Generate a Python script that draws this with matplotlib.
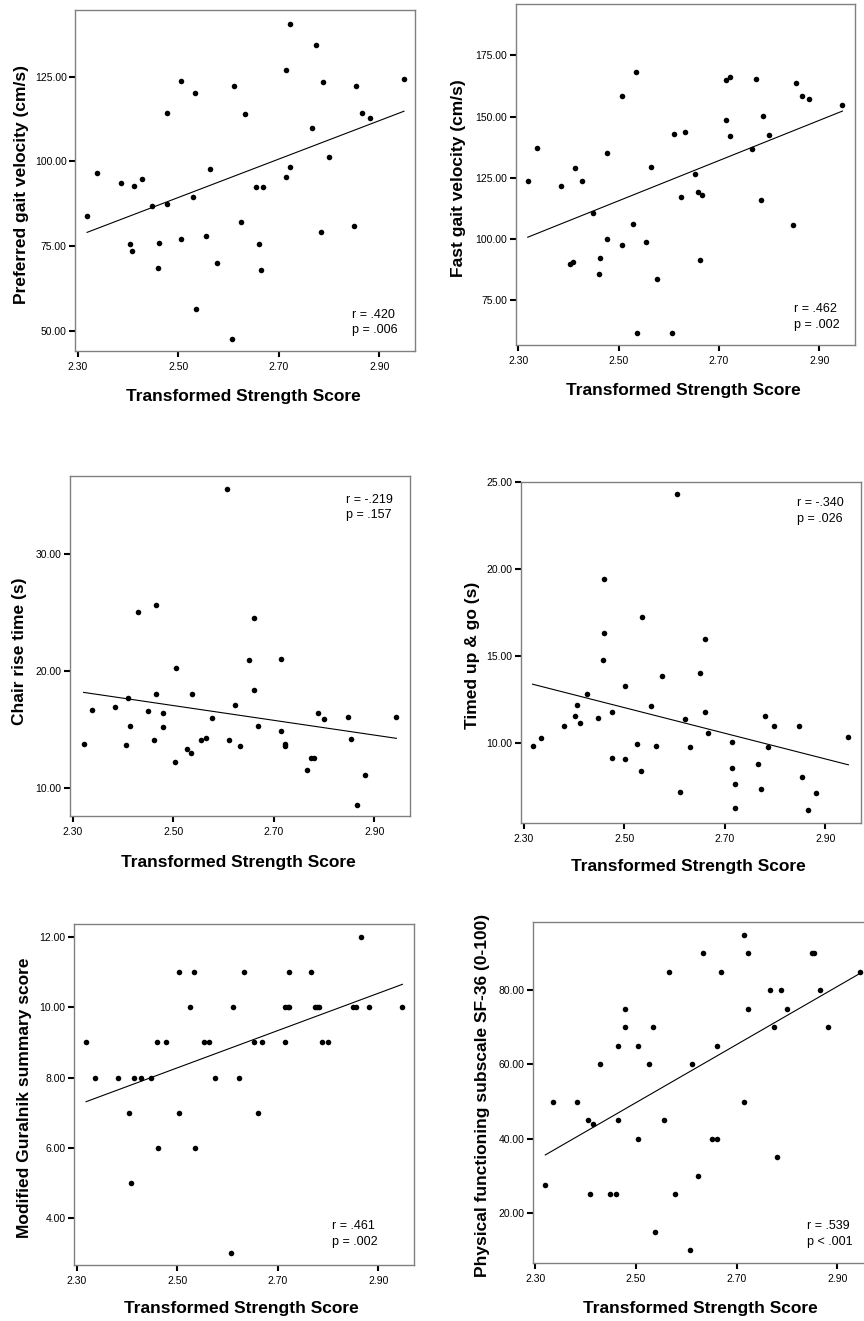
import numpy as np
import matplotlib.pyplot as plt

plt.rcParams['font.family'] = ['Liberation Sans', 'DejaVu Sans']

W, H = 864, 1321

# ---- data ----
# preferred gait velocity (cm/s)
x_pref = [2.319, 2.339, 2.386, 2.413, 2.428, 2.404, 2.409, 2.449, 2.477, 2.477, 2.461,
          2.463, 2.506, 2.506, 2.534, 2.529, 2.536, 2.555, 2.564, 2.577, 2.607, 2.612,
          2.626, 2.633, 2.654, 2.668, 2.661, 2.664, 2.715, 2.723, 2.715, 2.723, 2.767,
          2.774, 2.788, 2.784, 2.800, 2.850, 2.854, 2.866, 2.882, 2.949]
y_pref = [84.0, 96.6, 93.7, 92.7, 94.8, 75.6, 73.4, 86.7, 87.5, 114.4, 68.6,
          75.9, 123.8, 77.0, 120.3, 89.6, 56.4, 78.1, 97.6, 70.0, 47.5, 122.4,
          82.2, 114.1, 92.3, 92.3, 75.6, 67.8, 95.5, 98.3, 127.0, 140.6, 109.8,
          134.4, 123.5, 79.0, 101.4, 80.8, 122.4, 114.4, 112.7, 124.2]

# fast gait velocity (cm/s)
x_fast = [2.319, 2.338, 2.385, 2.413, 2.428, 2.449, 2.404, 2.409, 2.477, 2.477, 2.463,
          2.460, 2.506, 2.506, 2.534, 2.529, 2.537, 2.555, 2.564, 2.576, 2.606, 2.611,
          2.625, 2.632, 2.653, 2.659, 2.667, 2.662, 2.713, 2.722, 2.713, 2.721, 2.765,
          2.773, 2.787, 2.783, 2.799, 2.848, 2.853, 2.865, 2.880, 2.946]
y_fast = [123.6, 137.1, 121.6, 128.9, 123.6, 110.7, 89.7, 90.6, 135.1, 99.9, 92.1,
          85.9, 158.3, 97.4, 168.0, 106.1, 61.8, 98.9, 129.4, 83.9, 61.8, 142.8,
          117.2, 143.8, 126.5, 119.3, 117.8, 91.3, 148.7, 141.9, 164.7, 166.1, 136.7,
          165.5, 150.2, 115.9, 142.6, 105.7, 163.8, 158.3, 157.0, 154.5]

# chair rise time (s)
x_chair = [2.322, 2.338, 2.385, 2.410, 2.415, 2.406, 2.430, 2.451, 2.465, 2.465, 2.462,
           2.479, 2.479, 2.505, 2.504, 2.527, 2.535, 2.537, 2.555, 2.565, 2.577, 2.608,
           2.612, 2.624, 2.633, 2.651, 2.661, 2.661, 2.668, 2.715, 2.715, 2.722, 2.722,
           2.767, 2.775, 2.781, 2.789, 2.800, 2.848, 2.853, 2.882, 2.866, 2.944]
y_chair = [13.77, 16.70, 16.90, 17.73, 15.31, 13.65, 25.04, 16.62, 25.63, 18.05, 14.08,
           16.42, 15.19, 20.24, 12.25, 13.37, 12.97, 18.05, 14.08, 14.28, 16.02, 35.56,
           14.08, 17.13, 13.59, 20.96, 24.52, 18.36, 15.31, 21.07, 14.88, 13.77, 13.57,
           11.54, 12.57, 12.57, 16.42, 15.91, 16.11, 14.17, 11.14, 8.52, 16.11]

# timed up & go (s)
x_tug = [2.318, 2.335, 2.381, 2.402, 2.407, 2.413, 2.427, 2.448, 2.461, 2.461, 2.459,
         2.476, 2.476, 2.502, 2.502, 2.526, 2.535, 2.533, 2.554, 2.564, 2.576, 2.606,
         2.611, 2.622, 2.632, 2.651, 2.660, 2.660, 2.667, 2.714, 2.714, 2.721, 2.721,
         2.766, 2.773, 2.780, 2.787, 2.799, 2.848, 2.854, 2.865, 2.882, 2.946]
y_tug = [9.83, 10.31, 10.98, 11.53, 12.21, 11.17, 12.80, 11.46, 19.42, 16.35, 14.78,
         11.80, 9.14, 13.28, 9.06, 9.94, 17.25, 8.39, 12.13, 9.81, 13.84, 24.33,
         7.16, 11.38, 9.75, 14.03, 16.00, 11.80, 10.56, 10.08, 8.58, 7.64, 6.28,
         8.81, 7.37, 11.53, 9.75, 10.98, 10.98, 8.04, 6.14, 7.10, 10.36]

# modified Guralnik summary score
x_gur = [2.319, 2.336, 2.382, 2.404, 2.408, 2.414, 2.428, 2.449, 2.461, 2.463, 2.477,
         2.503, 2.503, 2.526, 2.534, 2.536, 2.554, 2.564, 2.576, 2.607, 2.611, 2.623,
         2.633, 2.652, 2.661, 2.669, 2.715, 2.715, 2.720, 2.722, 2.722, 2.767, 2.774,
         2.779, 2.783, 2.788, 2.800, 2.850, 2.855, 2.866, 2.882, 2.948]
y_gur = [9, 8, 8, 7, 5, 8, 8, 8, 9, 6, 9,
         11, 7, 10, 11, 6, 9, 9, 8, 3, 10, 8,
         11, 9, 7, 9, 9, 10, 10, 11, 10, 11, 10,
         10, 10, 9, 9, 10, 10, 12, 10, 10]

# physical functioning subscale SF-36
x_pf = [2.320, 2.336, 2.383, 2.405, 2.414, 2.409, 2.428, 2.449, 2.461, 2.464, 2.464,
        2.478, 2.478, 2.504, 2.504, 2.527, 2.534, 2.537, 2.555, 2.565, 2.577, 2.607,
        2.612, 2.624, 2.633, 2.651, 2.661, 2.661, 2.669, 2.714, 2.722, 2.714, 2.722,
        2.767, 2.774, 2.781, 2.788, 2.800, 2.849, 2.854, 2.866, 2.882, 2.946]
y_pf = [27.5, 50, 50, 45, 44, 25, 60, 25, 25, 65, 45,
        75, 70, 65, 40, 60, 70, 15, 45, 85, 25, 10,
        60, 30, 90, 40, 40, 65, 85, 95, 90, 50, 75,
        80, 70, 35, 80, 75, 90, 90, 80, 70, 85]

x_ticks = [2.30, 2.50, 2.70, 2.90]

panels = [
    # frame (left, top, right, bottom) in pixels, ylabel, ylim, yticks, stats, stats pos
    dict(x=x_pref, y=y_pref, frame=(75, 10, 415, 351), ylim=(44.0, 144.7),
         yticks=[50, 75, 100, 125], ylabel='Preferred gait velocity (cm/s)',
         xlabel='Transformed Strength Score', ylab_pos=(22, 184), xlab_pos=(243, 397),
         stats='r = .420\np = .006', stats_pos=(352, 322.5)),
    dict(x=x_fast, y=y_fast, frame=(515.7, 4, 855, 345), ylim=(56.8, 195.9),
         yticks=[75, 100, 125, 150, 175], ylabel='Fast gait velocity (cm/s)',
         xlabel='Transformed Strength Score', ylab_pos=(458, 178), xlab_pos=(683, 390),
         stats='r = .462\np = .002', stats_pos=(794, 317)),
    dict(x=x_chair, y=y_chair, frame=(70, 476, 410, 816), ylim=(7.6, 36.7),
         yticks=[10, 20, 30], ylabel='Chair rise time (s)',
         xlabel='Transformed Strength Score', ylab_pos=(20, 651), xlab_pos=(238, 862),
         stats='r = -.219\np = .157', stats_pos=(346, 507.5)),
    dict(x=x_tug, y=y_tug, frame=(521, 482, 861, 822.7), ylim=(5.42, 25.0),
         yticks=[10, 15, 20, 25], ylabel='Timed up & go (s)',
         xlabel='Transformed Strength Score', ylab_pos=(472, 655), xlab_pos=(688, 867),
         stats='r = -.340\np = .026', stats_pos=(797, 511)),
    dict(x=x_gur, y=y_gur, frame=(74, 924, 414, 1265), ylim=(2.65, 12.38),
         yticks=[4, 6, 8, 10, 12], ylabel='Modified Guralnik summary score',
         xlabel='Transformed Strength Score', ylab_pos=(25, 1098), xlab_pos=(241, 1308),
         stats='r = .461\np = .002', stats_pos=(332, 1234)),
    dict(x=x_pf, y=y_pf, frame=(532.7, 922.3, 873, 1262.7), ylim=(6.6, 98.3),
         yticks=[20, 40, 60, 80], ylabel='Physical functioning subscale SF-36 (0-100)',
         xlabel='Transformed Strength Score', ylab_pos=(483, 1095), xlab_pos=(700, 1308),
         stats='r = .539\np < .001', stats_pos=(807, 1234)),
]

fig = plt.figure(figsize=(W / 100, H / 100), dpi=100)


def fx(px):
    return px / W


def fy(py):
    return 1 - py / H


for p in panels:
    l, t, r, b = p['frame']
    ax = fig.add_axes([fx(l), fy(b), (r - l) / W, (b - t) / H])
    x = np.array(p['x'])
    y = np.array(p['y'], dtype=float)
    ax.scatter(x, y, s=16, c='black', marker='o', linewidths=0, zorder=3)
    k, c0 = np.polyfit(x, y, 1)
    xs = np.array([x.min(), x.max()])
    ax.plot(xs, k * xs + c0, color='black', lw=0.8)

    ax.set_xlim(2.295, 2.971)
    ax.set_ylim(*p['ylim'])
    ax.set_xticks(x_ticks)
    ax.set_xticklabels(['%.2f' % v for v in x_ticks])
    ax.set_yticks(p['yticks'])
    ax.set_yticklabels(['%.2f' % v for v in p['yticks']])
    for s in ax.spines.values():
        s.set_color('#808080')
        s.set_linewidth(1)
    ax.tick_params(direction='out', length=4, width=1.5, color='black', labelsize=7.5)
    ax.tick_params(axis='x', pad=4)
    ax.tick_params(axis='y', pad=2)

    fig.text(fx(p['ylab_pos'][0]), fy(p['ylab_pos'][1]), p['ylabel'], rotation=90,
             ha='center', va='center', fontsize=12.5, fontweight='bold')
    fig.text(fx(p['xlab_pos'][0]), fy(p['xlab_pos'][1]), p['xlabel'],
             ha='center', va='center', fontsize=12.5, fontweight='bold')
    fig.text(fx(p['stats_pos'][0]), fy(p['stats_pos'][1]), p['stats'],
             ha='left', va='center', fontsize=9, linespacing=1.35)

fig.savefig('out.png', dpi=100, facecolor='white')
